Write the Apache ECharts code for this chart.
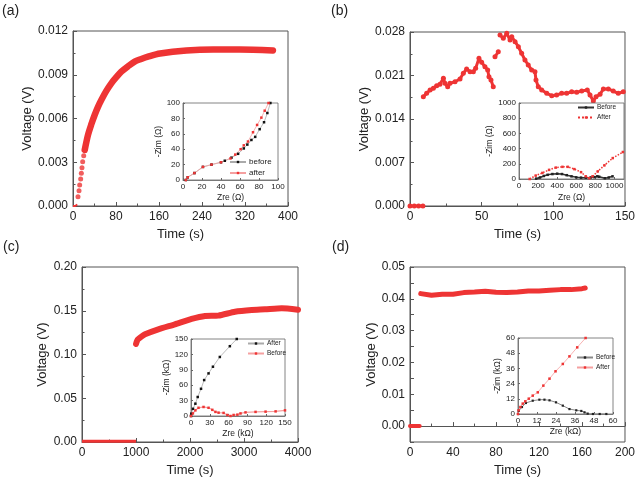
<!DOCTYPE html>
<html><head><meta charset="utf-8">
<script src="https://cdn.jsdelivr.net/npm/echarts@6/dist/echarts.min.js"></script>
<style>html,body{margin:0;padding:0;background:#fff}#c{width:638px;height:482px}</style>
</head><body><div id="c"></div>
<script>
// ---------- Panel (a) ----------
const aTime = [0, 2, 4, 6, 8, 9.3, 11.2, 12.4, 14.3, 15.5, 16.7, 18, 19.9, 21.8, 27.9, 34.1, 40.3, 46.5, 52.7, 62, 71.3, 80.6, 89.9, 102.3, 114.7, 127, 139.5, 162, 211, 261, 310, 372];
const aVolt = [0, 0, 0, 0, 0.0001, 0.00064, 0.00105, 0.00144, 0.00185, 0.00224, 0.00263, 0.00304, 0.00345, 0.00384, 0.00487, 0.0056, 0.00624, 0.0068, 0.00727, 0.00789, 0.00841, 0.00883, 0.00921, 0.00958, 0.0099, 0.01008, 0.01024, 0.01046, 0.01067, 0.01074, 0.01074, 0.01067];
const aBeforeZre = [3, 5, 12, 21, 30, 40, 44, 51, 58, 64, 67.7, 72, 76, 80.7, 85.3, 88.8, 92];
const aBeforeZim = [0, 3.5, 9, 17, 20, 23, 25, 29, 34, 41, 46, 52, 56, 66, 75, 87, 100];
const aAfterZre = [3, 5, 12, 21, 30, 40, 50, 55, 60.7, 64, 68.4, 73.7, 78, 82.5, 86, 90];
const aAfterZim = [0, 3.5, 9, 17, 20, 23, 28, 33, 40, 45, 50, 62, 71.5, 81, 90, 100];

// ---------- Panel (b) ----------
const bTime = [0, 3, 6, 9, null, 9.3, 11.6, 14, 16.3, 18.6, 20.9, 23.3, 24.4, 26.3, 27.9, 31.4, 34.9, 37.2, 39.5, 41.9, 44.2, 45.8, 48.1, 50, 52.3, 54.2, 55.1, 56.5, 58.1, null, 59.3, 61.6, null, 62.8, 65.1, 67.5, 69.8, 71, 73.3, 75.6, 77.9, 80.2, 82.5, 84.9, 87.2, 87.9, 89.5, 91.9, 95.4, 98.9, 102.3, 105.8, 109.3, 112.8, 116.3, 119.8, 123.7, 125.6, 127.9, 129.8, 132.6, 134.9, 138.4, 141.8, 145.3, 148.8];
const bVolt = [0, 0, 0, 0, null, 0.01759, 0.01813, 0.01866, 0.01893, 0.01936, 0.01958, 0.02055, 0.01974, 0.0192, 0.01974, 0.02, 0.02043, 0.02135, 0.02204, 0.02161, 0.02161, 0.02215, 0.02376, 0.02312, 0.02241, 0.02188, 0.0208, 0.02027, 0.0192, null, 0.02402, 0.02483, null, 0.02751, 0.02698, 0.02778, 0.02671, 0.02724, 0.02644, 0.02563, 0.02457, 0.02349, 0.02269, 0.02188, 0.02161, 0.02027, 0.0192, 0.01866, 0.01813, 0.01775, 0.01786, 0.01813, 0.01813, 0.01839, 0.0183, 0.0185, 0.01866, 0.01786, 0.0169, 0.01759, 0.01797, 0.01883, 0.01883, 0.0185, 0.01813, 0.01839];
const bBeforeZre = [180, 220, 260, 300, 350, 400, 450, 500, 550, 600, 650, 700, 750, 790, 820, 840, 900, 940, 980];
const bBeforeZim = [5, 20, 40, 55, 65, 70, 65, 50, 35, 22, 18, 18, 20, 25, 35, 30, 10, 20, 35];
const bAfterZre = [112, 175, 245, 315, 385, 455, 510, 580, 650, 700, 737, 770, 825, 895, 982, 1088];
const bAfterZim = [0, 45, 80, 120, 150, 160, 160, 130, 90, 35, 10, 35, 100, 180, 275, 355];

// ---------- Panel (c) ----------
const cTime = [0, 250, 500, 750, 1000, 1000, 1010, 1030, 1100, 1167, 1413, 1722, 2031, 2278, 2524, 2833, 3143, 3389, 3698, 4000];
const cVolt = [0.001, 0.001, 0.001, 0.001, 0.001, 0.112, 0.114, 0.117, 0.1205, 0.1231, 0.1288, 0.1345, 0.1406, 0.144, 0.1444, 0.1489, 0.1509, 0.1516, 0.1528, 0.1512];
const cAfterZre = [0, 0.5, 3.2, 7, 10.7, 16, 21, 28, 35, 46, 62, 73];
const cAfterZim = [0, 4.6, 14, 24, 37, 53, 70, 83, 96, 115, 136, 150];
const cBeforeZre = [0, 3, 7, 12, 20, 28, 34, 39, 44, 52, 58, 63, 68, 74, 79, 87, 103, 119, 135, 150];
const cBeforeZim = [0, 5, 11, 16, 17.6, 16, 12, 8, 6.5, 6, 2, 0, 2, 2.6, 5, 7, 8, 8.5, 9, 11];

// ---------- Panel (d) ----------
const dTime = [0, 3, 6, 9, 10, 20, 30, 40, 50, 60, 70, 80, 90, 100, 110, 120, 130, 140, 150, 160, 163];
const dVolt = [0, 0, 0, 0, 0.04163, 0.04111, 0.04142, 0.04142, 0.04195, 0.04215, 0.04236, 0.04205, 0.04195, 0.04215, 0.04247, 0.04247, 0.04268, 0.04289, 0.04289, 0.0432, 0.04341];
const dBeforeZre = [0, 0.5, 2.5, 5, 9.3, 13.5, 16.7, 19.9, 24, 28.3, 32.5, 36.8, 40, 42, 44, 47.3, 51.6, 55.8];
const dBeforeZim = [0, 2.5, 5.5, 8.7, 10.5, 11.3, 11.3, 10.8, 9.2, 6.6, 3.9, 2.9, 2.4, 1.3, 0.3, 0, 0, 0];
const dAfterZre = [0, 0.4, 1.5, 3, 4.6, 6.8, 9.3, 12.5, 16, 19.9, 23.7, 28.3, 32.5, 37.4, 42.7];
const dAfterZim = [0, 2.9, 5.5, 8.2, 10, 12.1, 14.5, 17.1, 22.4, 27.9, 33.7, 39.5, 45.5, 52.6, 60];

const RED = '#ee3434';
const FONT = 'Liberation Sans, Arial, sans-serif';
const zip = (xs, ys) => xs.map((x, i) => (x === null ? [null, null] : [x, ys[i]]));
const seg = (xs, ys, i0, i1) => zip(xs.slice(i0, i1), ys.slice(i0, i1));
const plain = v => String(v);

const chart = echarts.init(document.getElementById('c'), null, {renderer: 'canvas'});

function mainX(gi, min, max, interval, gap) {
  return {gridIndex: gi, type: 'value', min, max, interval, name: 'Time (s)', nameLocation: 'middle', nameGap: gap,
    nameTextStyle: {fontFamily: FONT, fontSize: 13, color: '#222'},
    axisLine: {show: true, lineStyle: {color: '#555', width: 1}},
    axisTick: {show: true, inside: true, length: 4, lineStyle: {color: '#555'}},
    minorTick: {show: true, splitNumber: 2, length: 2.5, lineStyle: {color: '#555'}},
    splitLine: {show: false},
    axisLabel: {fontFamily: FONT, fontSize: 12, color: '#222', margin: 5, showMaxLabel: true, formatter: plain}};
}
function mainY(gi, min, max, interval, gap, fmt, minor) {
  return {gridIndex: gi, type: 'value', min, max, interval, name: 'Voltage (V)', nameLocation: 'middle', nameGap: gap,
    nameTextStyle: {fontFamily: FONT, fontSize: 13, color: '#222'},
    axisLine: {show: true, lineStyle: {color: '#555', width: 1}},
    axisTick: {show: true, inside: true, length: 4, lineStyle: {color: '#555'}},
    minorTick: {show: minor, splitNumber: 2, length: 2.5, lineStyle: {color: '#555'}},
    splitLine: {show: false},
    axisLabel: {fontFamily: FONT, fontSize: 12, color: '#222', margin: 5, formatter: fmt}};
}
function insetAxis(gi, dim, max, interval, name, gap) {
  return {gridIndex: gi, type: 'value', min: 0, max, interval, name, nameLocation: 'middle', nameGap: gap, z: 12,
    nameTextStyle: {fontFamily: FONT, fontSize: 8.5, color: '#222'},
    axisLine: {show: true, lineStyle: {color: '#666', width: 0.8}},
    axisTick: {show: true, inside: true, length: 2, lineStyle: {color: '#666'}},
    splitLine: {show: false},
    axisLabel: {fontFamily: FONT, fontSize: 8, color: '#222', margin: 3, formatter: plain,
      showMaxLabel: dim === 'y' || max % interval === 0}};
}
function insetSeries(name, gi, xs, ys, line, mark, size, lw, dotted) {
  return {name, type: 'line', xAxisIndex: gi, yAxisIndex: gi, data: zip(xs, ys), z: 13,
    symbol: 'rect', symbolSize: size, showSymbol: true,
    itemStyle: {color: mark}, lineStyle: {color: line, width: lw, type: dotted ? 'dotted' : 'solid'},
    emphasis: {disabled: true}, animation: false};
}
function insetLegend(left, top, names, fs) {
  return {left, top, orient: 'vertical', itemGap: 3, itemWidth: 16, itemHeight: 3, z: 14,
    data: names, formatter: n => n.split('_')[0],
    textStyle: {fontFamily: FONT, fontSize: fs, color: '#222', padding: [0, 0, 0, -2]}, padding: 0, selectedMode: false};
}

const option = {
  animation: false,
  backgroundColor: '#fff',
  grid: [
    {left: 73, top: 31, width: 215, height: 175, show: true, borderColor: '#555', borderWidth: 1, backgroundColor: 'transparent'},
    {left: 410, top: 32, width: 215, height: 174, show: true, borderColor: '#555', borderWidth: 1, backgroundColor: 'transparent'},
    {left: 82, top: 267, width: 216, height: 175, show: true, borderColor: '#555', borderWidth: 1, backgroundColor: 'transparent'},
    {left: 410, top: 267, width: 215, height: 175, show: true, borderColor: '#555', borderWidth: 1, backgroundColor: 'transparent'},
    {left: 183, top: 103, width: 95, height: 77, show: true, z: 10, borderColor: '#666', borderWidth: 0.8, backgroundColor: '#fff'},
    {left: 519, top: 103, width: 105, height: 76, show: true, z: 10, borderColor: '#666', borderWidth: 0.8, backgroundColor: '#fff'},
    {left: 191, top: 339, width: 94, height: 77, show: true, z: 10, borderColor: '#666', borderWidth: 0.8, backgroundColor: '#fff'},
    {left: 518, top: 338, width: 95, height: 76, show: true, z: 10, borderColor: '#666', borderWidth: 0.8, backgroundColor: '#fff'}
  ],
  xAxis: [
    mainX(0, 0, 400, 80, 22),
    mainX(1, 0, 150, 50, 22),
    mainX(2, 0, 4000, 1000, 22),
    mainX(3, 0, 200, 40, 22),
    insetAxis(4, 'x', 100, 20, 'Zre (Ω)', 13),
    insetAxis(5, 'x', 1100, 200, 'Zre (Ω)', 14),
    insetAxis(6, 'x', 150, 30, 'Zre (kΩ)', 13),
    insetAxis(7, 'x', 60, 12, 'Zre (kΩ)', 13)
  ],
  yAxis: [
    mainY(0, 0, 0.012, 0.003, 38, v => v.toFixed(3), true),
    mainY(1, 0, 0.028, 0.007, 38, v => v.toFixed(3), true),
    mainY(2, 0, 0.2, 0.05, 33, v => v.toFixed(2), true),
    mainY(3, -0.005, 0.05, 0.005, 31, v => {
      const k = v / 0.01; return (v >= -1e-9 && Math.abs(k - Math.round(k)) < 1e-6) ? v.toFixed(2) : '';
    }, false),
    insetAxis(4, 'y', 100, 20, '-Zim (Ω)', 14),
    insetAxis(5, 'y', 1000, 200, '-Zim (Ω)', 22),
    insetAxis(6, 'y', 150, 30, '-Zim (kΩ)', 16),
    insetAxis(7, 'y', 60, 12, '-Zim (kΩ)', 13)
  ],
  legend: [
    insetLegend(229, 158, ['before_a', 'after_a'], 8),
    insetLegend(577, 104, ['Before_b', 'After_b'], 6.5),
    insetLegend(247, 340, ['After_c', 'Before_c'], 6.5),
    insetLegend(576, 354, ['Before_d', 'After_d'], 6.5)
  ],
  graphic: [
    {type: 'text', left: 2, top: 4, style: {text: '(a)', fontFamily: FONT, fontSize: 14, fill: '#222'}},
    {type: 'text', left: 331, top: 4, style: {text: '(b)', fontFamily: FONT, fontSize: 14, fill: '#222'}},
    {type: 'text', left: 3, top: 240, style: {text: '(c)', fontFamily: FONT, fontSize: 14, fill: '#222'}},
    {type: 'text', left: 332, top: 240, style: {text: '(d)', fontFamily: FONT, fontSize: 14, fill: '#222'}}
  ],
  series: [
    // (a)
    {type: 'line', xAxisIndex: 0, yAxisIndex: 0, data: seg(aTime, aVolt, 0, 5), symbol: 'none', lineStyle: {color: RED, width: 2}, z: 3},
    {type: 'scatter', xAxisIndex: 0, yAxisIndex: 0, data: seg(aTime, aVolt, 5, 14), symbolSize: 5, itemStyle: {color: RED}, z: 3},
    {type: 'line', xAxisIndex: 0, yAxisIndex: 0, data: seg(aTime, aVolt, 13, aTime.length), symbol: 'none', smooth: 0.3,
      lineStyle: {color: RED, width: 6.5, cap: 'round'}, z: 3},
    // (b)
    {type: 'line', xAxisIndex: 1, yAxisIndex: 1, data: zip(bTime, bVolt), symbol: 'circle', symbolSize: 5, connectNulls: false,
      itemStyle: {color: RED}, lineStyle: {color: RED, width: 3}, z: 3},
    // (c)
    {type: 'line', xAxisIndex: 2, yAxisIndex: 2, data: seg(cTime, cVolt, 0, 5), symbol: 'none',
      lineStyle: {color: RED, width: 3}, z: 3},
    {type: 'line', xAxisIndex: 2, yAxisIndex: 2, data: seg(cTime, cVolt, 5, cTime.length), symbol: 'none', smooth: 0.2,
      lineStyle: {color: RED, width: 6, cap: 'round'}, z: 3},
    // (d)
    {type: 'line', xAxisIndex: 3, yAxisIndex: 3, data: seg(dTime, dVolt, 0, 4), symbol: 'none',
      lineStyle: {color: RED, width: 4, cap: 'round'}, z: 3},
    {type: 'line', xAxisIndex: 3, yAxisIndex: 3, data: seg(dTime, dVolt, 4, dTime.length), symbol: 'none',
      lineStyle: {color: RED, width: 5, cap: 'round'}, z: 3},
    // insets
    insetSeries('before_a', 4, aBeforeZre, aBeforeZim, '#aaaaaa', '#111', 2.5, 0.8, false),
    insetSeries('after_a', 4, aAfterZre, aAfterZim, '#f5a0a0', RED, 2.5, 0.8, false),
    insetSeries('Before_b', 5, bBeforeZre, bBeforeZim, '#333', '#222', 2.5, 1.5, false),
    insetSeries('After_b', 5, bAfterZre, bAfterZim, RED, RED, 2.5, 1.5, true),
    insetSeries('After_c', 6, cAfterZre, cAfterZim, '#aaaaaa', '#111', 2.5, 0.8, false),
    insetSeries('Before_c', 6, cBeforeZre, cBeforeZim, '#f5a0a0', RED, 2.5, 1.2, false),
    insetSeries('Before_d', 7, dBeforeZre, dBeforeZim, '#888', '#222', 2.2, 1, false),
    insetSeries('After_d', 7, dAfterZre, dAfterZim, '#f5a0a0', RED, 2.5, 0.8, false)
  ]
};
chart.setOption(option);
</script>
</body></html>
